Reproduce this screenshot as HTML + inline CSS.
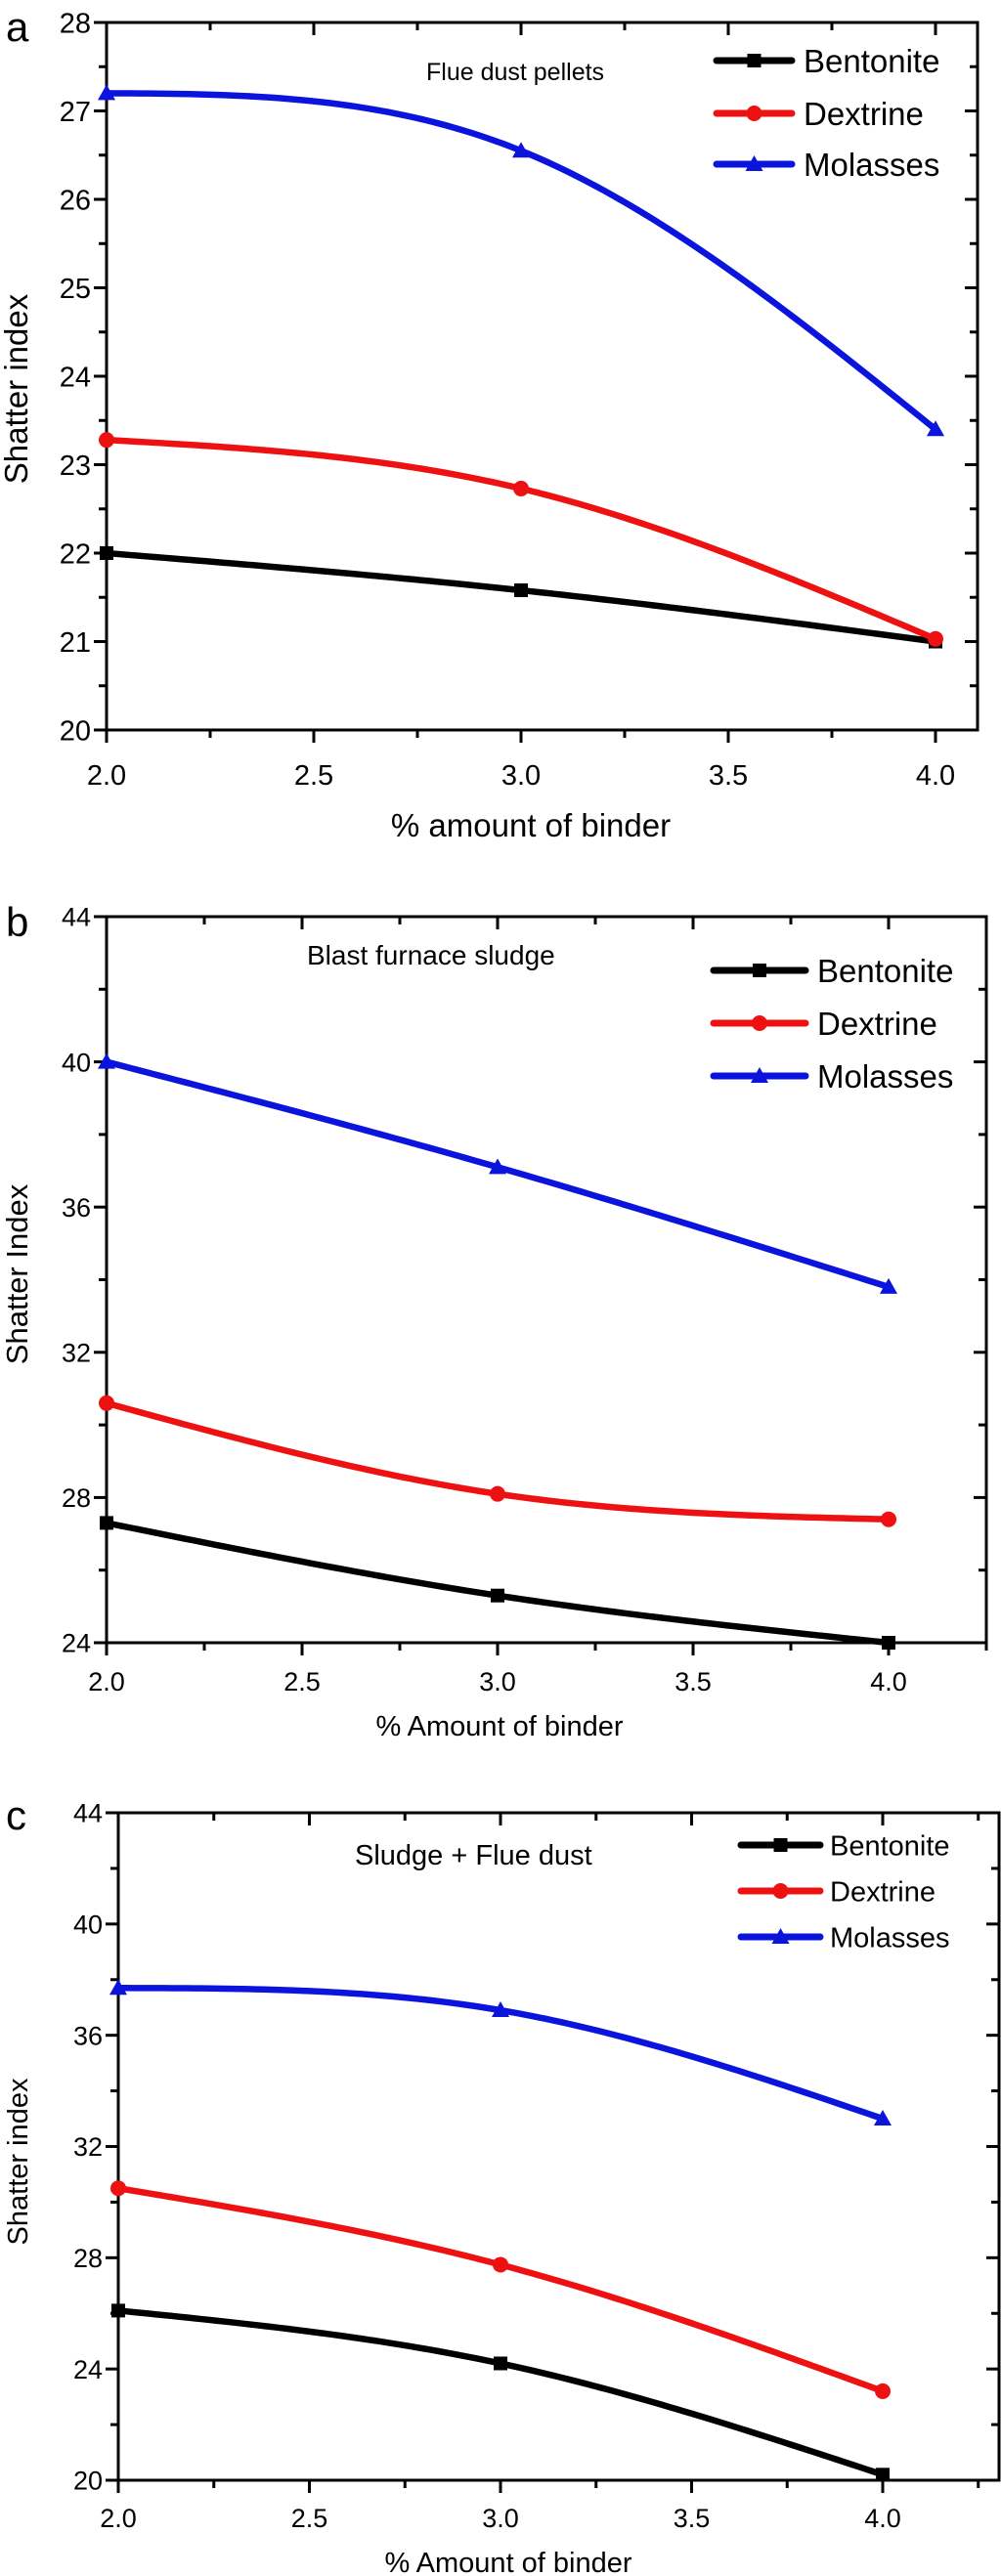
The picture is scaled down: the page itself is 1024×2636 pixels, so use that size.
<!DOCTYPE html>
<html><head><meta charset="utf-8"><style>
html,body{margin:0;padding:0;background:#fff;}
svg{display:block;font-family:"Liberation Sans",Arial,sans-serif;}
</style></head><body>
<svg id="fig" width="1024" height="2636" viewBox="0 0 1024 2636"></svg>
<script>
const xCats = [2.0, 3.0, 4.0];
const xTickLabels = ["2.0","2.5","3.0","3.5","4.0"];
const xTickVals = [2.0,2.5,3.0,3.5,4.0];
const seriesNames = ["Bentonite","Dextrine","Molasses"];
const aBentonite = [22.0, 21.58, 21.0];
const aDextrine = [23.28, 22.73, 21.03];
const aMolasses = [27.2, 26.55, 23.4];
const aYTicks = [20,21,22,23,24,25,26,27,28];
const bBentonite = [27.3, 25.3, 24.0];
const bDextrine = [30.6, 28.1, 27.4];
const bMolasses = [40.0, 37.1, 33.8];
const bYTicks = [24,28,32,36,40,44];
const cBentonite = [26.1, 24.2, 20.2];
const cDextrine = [30.5, 27.75, 23.2];
const cMolasses = [37.7, 36.9, 33.0];
const cYTicks = [20,24,28,32,36,40,44];

const NS="http://www.w3.org/2000/svg";
const svg=document.getElementById('fig');
function mk(tag,attrs,parent){const e=document.createElementNS(NS,tag);for(const k in attrs)e.setAttribute(k,attrs[k]);(parent||svg).appendChild(e);return e;}
const colors=["#000000","#ee1111","#0a14dd"];

function spline(xs,ys){
  const n=xs.length;const h=[],al=[],l=[1],mu=[0],z=[0];const c=new Array(n).fill(0),b=[],d=[];
  for(let i=0;i<n-1;i++)h.push(xs[i+1]-xs[i]);
  for(let i=1;i<n-1;i++)al[i]=3/h[i]*(ys[i+1]-ys[i])-3/h[i-1]*(ys[i]-ys[i-1]);
  for(let i=1;i<n-1;i++){l[i]=2*(xs[i+1]-xs[i-1])-h[i-1]*mu[i-1];mu[i]=h[i]/l[i];z[i]=(al[i]-h[i-1]*z[i-1])/l[i];}
  l[n-1]=1;z[n-1]=0;c[n-1]=0;
  for(let j=n-2;j>=0;j--){c[j]=z[j]-mu[j]*c[j+1];b[j]=(ys[j+1]-ys[j])/h[j]-h[j]*(c[j+1]+2*c[j])/3;d[j]=(c[j+1]-c[j])/(3*h[j]);}
  return x=>{let i=Math.min(n-2,Math.max(0,xs.findIndex((v,k)=>k<n-1&&x<=xs[k+1])));if(i<0)i=n-2;const dx=x-xs[i];return ys[i]+b[i]*dx+c[i]*dx*dx+d[i]*dx*dx*dx;};
}

function marker(g,k,x,y,s,name){
  let e;
  if(k===0)e=mk('rect',{x:x-s/2,y:y-s/2,width:s,height:s,fill:colors[0]},g);
  else if(k===1)e=mk('circle',{cx:x,cy:y,r:s/2+1,fill:colors[1]},g);
  else e=mk('polygon',{points:`${x},${y-s/2-2} ${x+s/2+2},${y+s/2} ${x-s/2-2},${y+s/2}`,fill:colors[2]},g);
  
  
}

function chart(o){
  const g=mk('g',{});
  
  
  const X=v=>o.L+(v-2)*(o.x4-o.L)/2;
  const Y=v=>o.B-(v-o.ymin)*(o.B-o.T)/(o.ymax-o.ymin);
  const ax=mk('rect',{x:o.L,y:o.T,width:o.R-o.L,height:o.B-o.T,fill:'none',stroke:'#000','stroke-width':3},g);
  
  
  // x ticks
  for(let v=2;v<=o.xmax+1e-9;v+=0.25){
    const maj=Math.abs(v*2-Math.round(v*2))<1e-9;const len=maj?13:8;const x=X(v);
    mk('line',{x1:x,y1:o.B,x2:x,y2:o.B+len,stroke:'#000','stroke-width':3},g);
    mk('line',{x1:x,y1:o.T,x2:x,y2:o.T+len,stroke:'#000','stroke-width':3},g);
  }
  xTickVals.forEach((v,i)=>{const t=mk('text',{x:X(v),y:o.xly,'font-size':o.tf,'text-anchor':'middle'},g);t.textContent=xTickLabels[i];
    
    });
  // y ticks
  const step=o.yt[1]-o.yt[0];
  for(let v=o.ymin;v<=o.ymax+1e-9;v+=step/2){
    const maj=Math.abs(((v-o.ymin)/step)-Math.round((v-o.ymin)/step))<1e-9;const len=maj?13:8;const y=Y(v);
    mk('line',{x1:o.L-len,y1:y,x2:o.L,y2:y,stroke:'#000','stroke-width':3},g);
    mk('line',{x1:o.R-len,y1:y,x2:o.R,y2:y,stroke:'#000','stroke-width':3},g);
  }
  o.yt.forEach(v=>{const t=mk('text',{x:o.L-16,y:Y(v)+o.tf*0.36,'font-size':o.tf,'text-anchor':'end'},g);t.textContent=String(v);
    
    });
  // series
  o.data.forEach((ys,k)=>{
    const f=spline(xCats,ys);let d='';
    for(let i=0;i<=100;i++){const v=2+2*i/100;d+=(i?'L':'M')+X(v).toFixed(2)+','+Y(f(v)).toFixed(2);}
    const p=mk('path',{d:d,fill:'none',stroke:colors[k],'stroke-width':6.5,'stroke-linejoin':'round'},g);
    
    
    ys.forEach((y,i)=>marker(g,k,X(xCats[i]),Y(y),14,seriesNames[k].toLowerCase()+'-point'));
  });
  // legend
  seriesNames.forEach((n,k)=>{
    const y=o.lg.ys[k];
    const ln=mk('line',{x1:o.lg.x1,y1:y,x2:o.lg.x2,y2:y,stroke:colors[k],'stroke-width':7,'stroke-linecap':'round'},g);
    
    
    marker(g,k,(o.lg.x1+o.lg.x2)/2,y,14,'legend-marker');
    const t=mk('text',{x:o.lg.tx,y:y+o.lg.fs*0.36,'font-size':o.lg.fs},g);t.textContent=n;
    
    
  });
  let t=mk('text',{x:o.ttl[0],y:o.ttl[1],'font-size':o.ttl[2]},g);t.textContent=o.title;
  
  
  t=mk('text',{x:(o.L+o.x4)/2+o.xtOff,y:o.xty,'font-size':o.xtf,'text-anchor':'middle'},g);t.textContent=o.xt;
  
  
  t=mk('text',{x:0,y:0,'font-size':o.ytf,'text-anchor':'middle',transform:`translate(${o.ytx},${o.yty}) rotate(-90)`},g);t.textContent=o.yTitle;
  
  
  t=mk('text',{x:6,y:o.pl,'font-size':42},g);t.textContent=o.id;
  
  
}

chart({id:'a',L:109,R:1000,x4:957,xmax:4.1,T:23,B:747,ymin:20,ymax:28,yt:aYTicks,tf:29,xly:803,
  data:[aBentonite,aDextrine,aMolasses],
  lg:{x1:733,x2:810,tx:822,ys:[62,116,168],fs:33},
  title:'Flue dust pellets',ttl:[436,82,25],xt:'% amount of binder',xtf:33,xty:856,xtOff:10,
  yTitle:'Shatter index',ytf:33,ytx:28,yty:398,pl:42});
chart({id:'b',L:109,R:1009,x4:909,xmax:4.25,T:938,B:1681,ymin:24,ymax:44,yt:bYTicks,tf:27,xly:1730,
  data:[bBentonite,bDextrine,bMolasses],
  lg:{x1:730,x2:824,tx:836,ys:[993,1047,1101],fs:33},
  title:'Blast furnace sludge',ttl:[314,987,28],xt:'% Amount of binder',xtf:29,xty:1776,xtOff:2,
  yTitle:'Shatter Index',ytf:31,ytx:28,yty:1304,pl:958});
chart({id:'c',L:121,R:1022,x4:903,xmax:4.3,T:1855,B:2538,ymin:20,ymax:44,yt:cYTicks,tf:27,xly:2586,
  data:[cBentonite,cDextrine,cMolasses],
  lg:{x1:758,x2:839,tx:849,ys:[1888,1935,1982],fs:29},
  title:'Sludge + Flue dust',ttl:[363,1908,29],xt:'% Amount of binder',xtf:29,xty:2632,xtOff:8,
  yTitle:'Shatter index',ytf:29,ytx:28,yty:2212,pl:1872});
</script>
</body></html>
